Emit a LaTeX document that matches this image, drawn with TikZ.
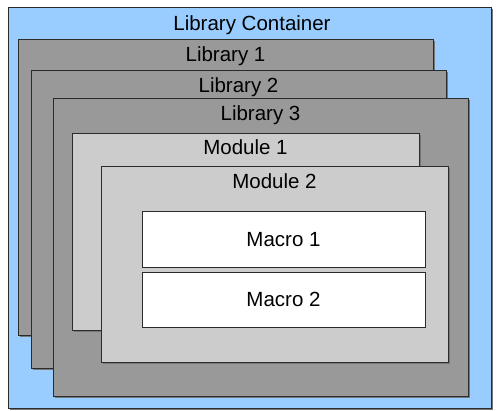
\documentclass[tikz,border=0pt]{standalone}
\usepackage{fontspec}
\setmainfont{Liberation Sans}
\definecolor{contblue}{HTML}{99CCFF}
\definecolor{libgray}{HTML}{999999}
\definecolor{modgray}{HTML}{CCCCCC}
\definecolor{edge}{HTML}{2B2B2B}
\definecolor{shadowc}{HTML}{777777}
\begin{document}
\begin{tikzpicture}[x=1pt,y=-1pt,
  boxbase/.style={draw=edge,line width=0.9pt},
  shade1/.style={fill=shadowc},
  lbl/.style={anchor=base,inner sep=0pt,font=\fontsize{20.5}{22}\selectfont}]
\useasboundingbox[fill=white] (0,0) rectangle (500,411);
% container
\fill[shadowc] (10,9) rectangle (493,410);
\filldraw[boxbase,fill=contblue] (8,7) rectangle (491,408);
\node[lbl] (tcont) at (252,31) {Library Container};
% Library 1
\fill[shade1] (20,41) rectangle (435,337);
\filldraw[boxbase,fill=libgray] (18,39) rectangle (433,335);
\node[lbl] (tlib1) at (225.5,62) {Library 1};
% Library 2
\fill[shade1] (33,72) rectangle (448,370);
\filldraw[boxbase,fill=libgray] (31,70) rectangle (446,368);
\node[lbl] (tlib2) at (238.5,93) {Library 2};
% Library 3
\fill[shade1] (55,100) rectangle (470,398);
\filldraw[boxbase,fill=libgray] (53,98) rectangle (468,396);
\node[lbl] (tlib3) at (260.5,121) {Library 3};
% Module 1
\fill[shade1] (74,135) rectangle (421,332);
\filldraw[boxbase,fill=modgray] (72,133) rectangle (419,330);
\node[lbl] (tmod1) at (245.5,155) {Module 1};
% Module 2
\fill[shade1] (103,168) rectangle (450,364);
\filldraw[boxbase,fill=modgray] (101,166) rectangle (448,362);
\node[lbl] (tmod2) at (274.5,189) {Module 2};
% Macros
\filldraw[boxbase,fill=white] (142,211) rectangle (425,267);
\node[lbl] (tmac1) at (283.5,247) {Macro 1};
\filldraw[boxbase,fill=white] (142,272) rectangle (425,327);
\node[lbl] (tmac2) at (283.5,306) {Macro 2};
\end{tikzpicture}
\end{document}
